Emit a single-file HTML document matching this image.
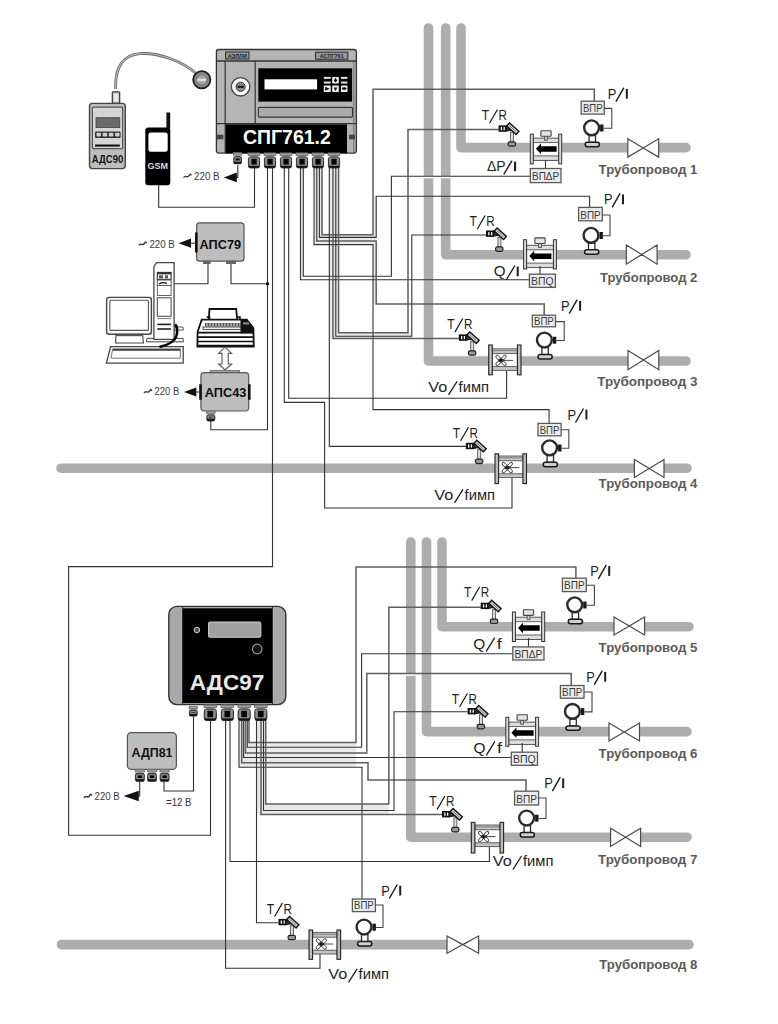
<!DOCTYPE html>
<html><head><meta charset="utf-8"><title>diagram</title>
<style>html,body{margin:0;padding:0;background:#fff;width:778px;height:1024px;overflow:hidden}svg{display:block}</style>
</head><body>
<svg width="778" height="1024" viewBox="0 0 778 1024"><polyline points="428.5,28.0 428.5,361.0 686.0,361.0" fill="none" stroke="#adadad" stroke-width="9.6" stroke-linecap="round" stroke-linejoin="round"/>
<polyline points="445.7,28.0 445.7,254.8 686.0,254.8" fill="none" stroke="#adadad" stroke-width="9.6" stroke-linecap="round" stroke-linejoin="round"/>
<polyline points="461.0,28.0 461.0,147.6 686.0,147.6" fill="none" stroke="#adadad" stroke-width="9.6" stroke-linecap="round" stroke-linejoin="round"/>
<polyline points="61.0,468.2 687.0,468.2" fill="none" stroke="#adadad" stroke-width="9.6" stroke-linecap="round" stroke-linejoin="round"/>
<polyline points="410.8,542.0 410.8,837.2 687.0,837.2" fill="none" stroke="#adadad" stroke-width="9.6" stroke-linecap="round" stroke-linejoin="round"/>
<polyline points="426.5,542.0 426.5,731.6 687.0,731.6" fill="none" stroke="#adadad" stroke-width="9.6" stroke-linecap="round" stroke-linejoin="round"/>
<polyline points="442.0,542.0 442.0,626.7 689.0,626.7" fill="none" stroke="#adadad" stroke-width="9.6" stroke-linecap="round" stroke-linejoin="round"/>
<polyline points="61.5,944.6 689.0,944.6" fill="none" stroke="#adadad" stroke-width="9.6" stroke-linecap="round" stroke-linejoin="round"/>
<rect x="300.5" y="168.0" width="2.8" height="108.3" fill="#e9e9e9"/>
<rect x="314.0" y="168.0" width="8.0" height="76.6" fill="#e9e9e9"/>
<rect x="314.0" y="234.7" width="62.2" height="9.9" fill="#e9e9e9"/>
<rect x="373.0" y="196.3" width="3.2" height="38.4" fill="#e9e9e9"/>
<rect x="373.0" y="241.0" width="3.2" height="62.9" fill="#e9e9e9"/>
<rect x="329.3" y="168.0" width="9.3" height="170.4" fill="#e9e9e9"/>
<rect x="333.0" y="332.7" width="78.8" height="5.7" fill="#e9e9e9"/>
<rect x="239.0" y="721.0" width="10.0" height="46.3" fill="#e9e9e9"/>
<rect x="239.0" y="742.6" width="117.0" height="24.7" fill="#e9e9e9"/>
<rect x="256.5" y="721.0" width="9.2" height="93.6" fill="#e9e9e9"/>
<rect x="256.5" y="804.1" width="132.3" height="10.5" fill="#e9e9e9"/>
<polyline points="237.8,165.0 237.8,177.4 230.0,177.4" fill="none" stroke="#333333" stroke-width="1.1"/>
<path d="M223.8 177.4 L236.8 172.6 L236.8 182.2 Z" fill="#111"/>
<polyline points="254.5,166.0 254.5,207.2 158.7,207.2 158.7,184.0" fill="none" stroke="#333333" stroke-width="1.1"/>
<polyline points="267.5,166.0 267.5,429.7 210.8,429.7 210.8,420.0" fill="none" stroke="#333333" stroke-width="1.1"/>
<polyline points="231.0,262.0 231.0,283.8 267.5,283.8" fill="none" stroke="#333333" stroke-width="1.1"/>
<circle cx="267.5" cy="283.8" r="1.8" fill="#111"/>
<polyline points="272.5,166.0 272.5,566.6 68.6,566.6 68.6,835.2 210.5,835.2 210.5,720.0" fill="none" stroke="#333333" stroke-width="1.1"/>
<polyline points="284.3,166.0 284.3,402.4 324.6,402.4 324.6,508.0 512.0,508.0 512.0,477.6" fill="none" stroke="#333333" stroke-width="1.1"/>
<polyline points="288.7,166.0 288.7,398.2 506.6,398.2 506.6,370.4" fill="none" stroke="#333333" stroke-width="1.1"/>
<polyline points="300.5,166.0 300.5,279.7 529.4,279.7" fill="none" stroke="#333333" stroke-width="1.1"/>
<polyline points="303.3,166.0 303.3,276.3 391.4,276.3 391.4,176.3 530.3,176.3" fill="none" stroke="#333333" stroke-width="1.1"/>
<polyline points="314.0,166.0 314.0,244.6 373.0,244.6 373.0,409.6 549.1,409.6 549.1,423.4" fill="none" stroke="#333333" stroke-width="1.1"/>
<polyline points="316.7,166.0 316.7,241.0 376.2,241.0 376.2,303.9 544.2,303.9 544.2,315.2" fill="none" stroke="#5e5e5e" stroke-width="1.5"/>
<polyline points="319.4,166.0 319.4,237.4 376.2,237.4 376.2,196.3 589.6,196.3 589.6,207.4" fill="none" stroke="#333333" stroke-width="1.1"/>
<polyline points="322.0,166.0 322.0,234.7 373.0,234.7 373.0,89.3 594.3,89.3 594.3,101.2" fill="none" stroke="#5e5e5e" stroke-width="1.5"/>
<polyline points="329.3,166.0 329.3,446.4 465.8,446.4" fill="none" stroke="#333333" stroke-width="1.1"/>
<polyline points="333.0,166.0 333.0,338.4 458.8,338.4" fill="none" stroke="#5e5e5e" stroke-width="1.5"/>
<polyline points="335.8,166.0 335.8,336.2 411.8,336.2 411.8,235.0 486.0,235.0" fill="none" stroke="#333333" stroke-width="1.1"/>
<polyline points="338.6,166.0 338.6,332.7 408.0,332.7 408.0,129.4 498.5,129.4" fill="none" stroke="#5e5e5e" stroke-width="1.5"/>
<polyline points="193.5,714.0 193.5,791.0 164.0,791.0 164.0,781.0" fill="none" stroke="#333333" stroke-width="1.1"/>
<polyline points="225.6,720.0 225.6,968.2 320.0,968.2 320.0,954.0" fill="none" stroke="#333333" stroke-width="1.1"/>
<polyline points="230.0,720.0 230.0,861.5 489.4,861.5 489.4,846.6" fill="none" stroke="#333333" stroke-width="1.1"/>
<polyline points="249.0,720.0 249.0,742.6 356.0,742.6 356.0,567.1 575.9,567.1 575.9,578.2" fill="none" stroke="#5e5e5e" stroke-width="1.5"/>
<polyline points="247.3,720.0 247.3,747.2 361.6,747.2 361.6,653.8 512.8,653.8" fill="none" stroke="#333333" stroke-width="1.1"/>
<polyline points="245.5,720.0 245.5,752.9 366.8,752.9 366.8,673.6 571.2,673.6 571.2,685.5" fill="none" stroke="#5e5e5e" stroke-width="1.5"/>
<polyline points="243.6,720.0 243.6,757.5 511.3,757.5" fill="none" stroke="#333333" stroke-width="1.1"/>
<polyline points="241.7,720.0 241.7,762.8 368.0,762.8 368.0,780.0 526.0,780.0 526.0,791.2" fill="none" stroke="#5e5e5e" stroke-width="1.5"/>
<polyline points="239.0,720.0 239.0,767.3 362.0,767.3 362.0,899.2" fill="none" stroke="#333333" stroke-width="1.1"/>
<polyline points="256.5,720.0 256.5,922.7 278.5,922.7" fill="none" stroke="#333333" stroke-width="1.1"/>
<polyline points="261.0,720.0 261.0,814.6 442.0,814.6" fill="none" stroke="#5e5e5e" stroke-width="1.5"/>
<polyline points="263.5,720.0 263.5,810.5 394.0,810.5 394.0,711.8 467.6,711.8" fill="none" stroke="#333333" stroke-width="1.1"/>
<polyline points="265.7,720.0 265.7,804.1 388.8,804.1 388.8,607.2 480.7,607.2" fill="none" stroke="#5e5e5e" stroke-width="1.5"/>
<rect x="423.6" y="176.9" width="9.8" height="1.4" fill="#fff"/>
<rect x="440.8" y="176.9" width="9.8" height="1.4" fill="#fff"/>
<rect x="405.9" y="674.4" width="9.8" height="1.4" fill="#fff"/>
<text x="481.8" y="120.1" font-family="Liberation Sans" font-size="14.2" fill="#1e1e1e" textLength="7.4" lengthAdjust="spacingAndGlyphs">T</text>
<line x1="489.8" y1="122.8" x2="497.2" y2="110.0" stroke="#1e1e1e" stroke-width="1.25" stroke-linecap="round"/>
<text x="498.6" y="120.1" font-family="Liberation Sans" font-size="14.2" fill="#1e1e1e" textLength="8.4" lengthAdjust="spacingAndGlyphs">R</text>
<g transform="translate(498.5,129.2)">
<rect x="11.9" y="3" width="3" height="9.8" fill="#ddd" stroke="#555" stroke-width="0.9"/>
<rect x="9.6" y="12.6" width="7.4" height="4.4" rx="1.8" fill="#999" stroke="#222" stroke-width="1.2"/>
<path d="M7 -3 L11 -4.5 L13 1 L7 2" fill="#333" stroke="#111" stroke-width="1"/>
<rect x="0" y="-3.8" width="8" height="6.4" fill="#111"/>
<rect x="2.2" y="-2.2" width="1.3" height="3.2" fill="#fff"/><rect x="5" y="-2.2" width="1.3" height="3.2" fill="#fff"/>
<g transform="translate(14.2,-0.6) rotate(42)"><rect x="-6.2" y="-2.1" width="12.6" height="4.2" fill="#d8d8d8" stroke="#111" stroke-width="1.4"/><line x1="-4.6" y1="0" x2="4.6" y2="0" stroke="#666" stroke-width="0.8"/></g>
</g>
<rect x="533.3" y="138.1" width="25.4" height="22.3" fill="#ddd" stroke="#444" stroke-width="0.9"/>
<rect x="533.3" y="142.6" width="25.4" height="13.3" fill="#fff" stroke="#555" stroke-width="0.9"/>
<path d="M535.9 148.8 L540.9 143.6 L540.9 146.2 L556.7 146.2 L556.7 151.7 L540.9 151.7 L540.9 154.1 Z" fill="#000"/>
<rect x="530.3" y="134.2" width="3.0" height="29.7" fill="#d8d8d8" stroke="#333" stroke-width="1"/>
<rect x="558.7" y="134.2" width="3.0" height="29.7" fill="#d8d8d8" stroke="#333" stroke-width="1"/>
<rect x="544.6" y="135.9" width="2.8" height="4.4" fill="#ccc" stroke="#444" stroke-width="0.8"/>
<rect x="540.9" y="130.7" width="10.2" height="5.6" rx="0.6" fill="#e4e4e4" stroke="#444" stroke-width="1.1"/>
<polyline points="545.5,160.3 545.5,168.5" fill="none" stroke="#333" stroke-width="1.1"/>
<rect x="530.3" y="168.5" width="30.7" height="14.1" fill="#ececec" stroke="#5a5a5a" stroke-width="1.3"/>
<text x="545.6" y="180.3" font-family="Liberation Sans" font-size="11.6" font-weight="normal" fill="#3a3a3a" text-anchor="middle" textLength="27.3" lengthAdjust="spacingAndGlyphs">ВПΔР</text>
<text x="486.9" y="171.2" font-family="Liberation Sans" font-size="14.2" fill="#1e1e1e" textLength="18.6" lengthAdjust="spacingAndGlyphs">ΔP</text>
<line x1="504.0" y1="174.0" x2="511.7" y2="161.2" stroke="#1e1e1e" stroke-width="1.45" stroke-linecap="round"/>
<rect x="514.0" y="161.6" width="2.1" height="9.6" fill="#1e1e1e"/>
<rect x="581.2" y="101.2" width="23.1" height="12.9" fill="#ececec" stroke="#5a5a5a" stroke-width="1.3"/>
<text x="592.8" y="111.8" font-family="Liberation Sans" font-size="11.6" font-weight="normal" fill="#3a3a3a" text-anchor="middle" textLength="19.7" lengthAdjust="spacingAndGlyphs">ВПР</text>
<text x="607.8" y="98.7" font-family="Liberation Sans" font-size="14.2" fill="#1e1e1e" textLength="8.6" lengthAdjust="spacingAndGlyphs">P</text>
<line x1="616.2" y1="101.2" x2="623.6" y2="88.2" stroke="#1e1e1e" stroke-width="1.45" stroke-linecap="round"/>
<rect x="625.8" y="88.9" width="2.0" height="9.8" fill="#1e1e1e"/>
<rect x="589.1" y="135.4" width="6.4" height="7" fill="#fff" stroke="#2a2a2a" stroke-width="1.3"/>
<rect x="585.2" y="142.3" width="14.2" height="4.4" rx="2.2" fill="#cfcfcf" stroke="#1a1a1a" stroke-width="1.5"/>
<circle cx="591.6" cy="127.8" r="7.4" fill="#fff" stroke="#2a2a2a" stroke-width="2.4"/>
<rect x="600.1" y="124.5" width="3.4" height="7" fill="#1a1a1a"/>
<polyline points="604.3,108.4 611.8,108.4 611.8,128.3 603.5,128.3" fill="none" stroke="#444" stroke-width="1.1"/>
<rect x="627.8" y="142.4" width="30.9" height="11.0" fill="#fff"/>
<path d="M627.8 138.8 L643.2 147.9 L627.8 157.1 Z M658.7 138.8 L643.2 147.9 L658.7 157.1 Z" fill="#fff" stroke="#4a4a4a" stroke-width="1.2"/>
<text x="598.6" y="174.2" font-family="Liberation Sans" font-size="13.4" font-weight="bold" fill="#5a5a5a" textLength="98.8" lengthAdjust="spacingAndGlyphs">Трубопровод 1</text>
<text x="469.5" y="226.0" font-family="Liberation Sans" font-size="14.2" fill="#1e1e1e" textLength="7.4" lengthAdjust="spacingAndGlyphs">T</text>
<line x1="477.5" y1="228.7" x2="484.9" y2="215.9" stroke="#1e1e1e" stroke-width="1.25" stroke-linecap="round"/>
<text x="486.3" y="226.0" font-family="Liberation Sans" font-size="14.2" fill="#1e1e1e" textLength="8.4" lengthAdjust="spacingAndGlyphs">R</text>
<g transform="translate(486.0,234.3)">
<rect x="11.9" y="3" width="3" height="9.8" fill="#ddd" stroke="#555" stroke-width="0.9"/>
<rect x="9.6" y="12.6" width="7.4" height="4.4" rx="1.8" fill="#999" stroke="#222" stroke-width="1.2"/>
<path d="M7 -3 L11 -4.5 L13 1 L7 2" fill="#333" stroke="#111" stroke-width="1"/>
<rect x="0" y="-3.8" width="8" height="6.4" fill="#111"/>
<rect x="2.2" y="-2.2" width="1.3" height="3.2" fill="#fff"/><rect x="5" y="-2.2" width="1.3" height="3.2" fill="#fff"/>
<g transform="translate(14.2,-0.6) rotate(42)"><rect x="-6.2" y="-2.1" width="12.6" height="4.2" fill="#d8d8d8" stroke="#111" stroke-width="1.4"/><line x1="-4.6" y1="0" x2="4.6" y2="0" stroke="#666" stroke-width="0.8"/></g>
</g>
<rect x="526.6" y="245.3" width="26.8" height="22.3" fill="#ddd" stroke="#444" stroke-width="0.9"/>
<rect x="526.6" y="249.8" width="26.8" height="13.3" fill="#fff" stroke="#555" stroke-width="0.9"/>
<path d="M529.2 256.0 L534.2 250.8 L534.2 253.4 L551.4 253.4 L551.4 258.9 L534.2 258.9 L534.2 261.3 Z" fill="#000"/>
<rect x="523.6" y="239.7" width="3.0" height="29.3" fill="#d8d8d8" stroke="#333" stroke-width="1"/>
<rect x="553.4" y="239.7" width="3.0" height="29.3" fill="#d8d8d8" stroke="#333" stroke-width="1"/>
<rect x="538.6" y="243.1" width="2.8" height="4.4" fill="#ccc" stroke="#444" stroke-width="0.8"/>
<rect x="534.9" y="237.9" width="10.2" height="5.6" rx="0.6" fill="#e4e4e4" stroke="#444" stroke-width="1.1"/>
<polyline points="540.0,266.0 540.0,274.2" fill="none" stroke="#333" stroke-width="1.1"/>
<rect x="529.4" y="274.2" width="26.0" height="13.2" fill="#ececec" stroke="#5a5a5a" stroke-width="1.3"/>
<text x="542.4" y="285.1" font-family="Liberation Sans" font-size="11.6" font-weight="normal" fill="#3a3a3a" text-anchor="middle" textLength="22.6" lengthAdjust="spacingAndGlyphs">ВПQ</text>
<text x="493.7" y="276.3" font-family="Liberation Sans" font-size="14.2" fill="#1e1e1e" textLength="11.8" lengthAdjust="spacingAndGlyphs">Q</text>
<line x1="506.5" y1="279.5" x2="514.5" y2="266.1" stroke="#1e1e1e" stroke-width="1.3" stroke-linecap="round"/>
<rect x="516.7" y="266.5" width="2.0" height="9.8" fill="#1e1e1e"/>
<rect x="578.6" y="207.4" width="23.7" height="13.4" fill="#ececec" stroke="#5a5a5a" stroke-width="1.3"/>
<text x="590.5" y="218.5" font-family="Liberation Sans" font-size="11.6" font-weight="normal" fill="#3a3a3a" text-anchor="middle" textLength="20.3" lengthAdjust="spacingAndGlyphs">ВПР</text>
<text x="604.0" y="204.3" font-family="Liberation Sans" font-size="14.2" fill="#1e1e1e" textLength="8.6" lengthAdjust="spacingAndGlyphs">P</text>
<line x1="612.4" y1="206.8" x2="619.8" y2="193.8" stroke="#1e1e1e" stroke-width="1.45" stroke-linecap="round"/>
<rect x="622.0" y="194.5" width="2.0" height="9.8" fill="#1e1e1e"/>
<rect x="588.5" y="242.9" width="6.4" height="7" fill="#fff" stroke="#2a2a2a" stroke-width="1.3"/>
<rect x="584.6" y="249.8" width="14.2" height="4.4" rx="2.2" fill="#cfcfcf" stroke="#1a1a1a" stroke-width="1.5"/>
<circle cx="591.0" cy="235.3" r="7.4" fill="#fff" stroke="#2a2a2a" stroke-width="2.4"/>
<rect x="599.5" y="232.0" width="3.4" height="7" fill="#1a1a1a"/>
<polyline points="602.3,215.0 610.0,215.0 610.0,235.8 602.9,235.8" fill="none" stroke="#444" stroke-width="1.1"/>
<rect x="626.3" y="249.1" width="30.8" height="11.0" fill="#fff"/>
<path d="M626.3 245.0 L641.7 254.6 L626.3 264.2 Z M657.1 245.0 L641.7 254.6 L657.1 264.2 Z" fill="#fff" stroke="#4a4a4a" stroke-width="1.2"/>
<text x="600.0" y="282.2" font-family="Liberation Sans" font-size="13.4" font-weight="bold" fill="#5a5a5a" textLength="97.4" lengthAdjust="spacingAndGlyphs">Трубопровод 2</text>
<text x="447.2" y="328.9" font-family="Liberation Sans" font-size="14.2" fill="#1e1e1e" textLength="7.4" lengthAdjust="spacingAndGlyphs">T</text>
<line x1="455.2" y1="331.6" x2="462.6" y2="318.8" stroke="#1e1e1e" stroke-width="1.25" stroke-linecap="round"/>
<text x="464.0" y="328.9" font-family="Liberation Sans" font-size="14.2" fill="#1e1e1e" textLength="8.4" lengthAdjust="spacingAndGlyphs">R</text>
<g transform="translate(458.8,338.2)">
<rect x="11.9" y="3" width="3" height="9.8" fill="#ddd" stroke="#555" stroke-width="0.9"/>
<rect x="9.6" y="12.6" width="7.4" height="4.4" rx="1.8" fill="#999" stroke="#222" stroke-width="1.2"/>
<path d="M7 -3 L11 -4.5 L13 1 L7 2" fill="#333" stroke="#111" stroke-width="1"/>
<rect x="0" y="-3.8" width="8" height="6.4" fill="#111"/>
<rect x="2.2" y="-2.2" width="1.3" height="3.2" fill="#fff"/><rect x="5" y="-2.2" width="1.3" height="3.2" fill="#fff"/>
<g transform="translate(14.2,-0.6) rotate(42)"><rect x="-6.2" y="-2.1" width="12.6" height="4.2" fill="#d8d8d8" stroke="#111" stroke-width="1.4"/><line x1="-4.6" y1="0" x2="4.6" y2="0" stroke="#666" stroke-width="0.8"/></g>
</g>
<rect x="492.3" y="348.8" width="25.1" height="21.6" fill="#fff"/>
<rect x="492.3" y="348.8" width="25.1" height="4.8" fill="#c4c4c4" stroke="#555" stroke-width="0.9"/>
<rect x="492.3" y="366.6" width="25.1" height="3.8" fill="#c4c4c4" stroke="#555" stroke-width="0.9"/>
<line x1="492.3" y1="350.6" x2="517.4" y2="350.6" stroke="#666" stroke-width="0.7"/>
<g transform="translate(501.0,360.4)" stroke="#333" stroke-width="0.9" fill="#fff">
<ellipse cx="-2.7" cy="-2.7" rx="3.1" ry="1.6" transform="rotate(45 -2.7 -2.7)"/><ellipse cx="2.7" cy="-2.7" rx="3.1" ry="1.6" transform="rotate(-45 2.7 -2.7)"/>
<ellipse cx="-2.7" cy="2.7" rx="3.1" ry="1.6" transform="rotate(-45 -2.7 2.7)"/><ellipse cx="2.7" cy="2.7" rx="3.1" ry="1.6" transform="rotate(45 2.7 2.7)"/>
<ellipse cx="0" cy="0" rx="2.4" ry="1.6" fill="#111"/><line x1="0" y1="0" x2="12" y2="0"/>
</g>
<rect x="488.7" y="345.0" width="3.6" height="29.8" fill="#bdbdbd" stroke="#222" stroke-width="1.1"/>
<rect x="517.4" y="345.0" width="3.6" height="29.8" fill="#bdbdbd" stroke="#222" stroke-width="1.1"/>
<text x="428.3" y="391.7" font-family="Liberation Sans" font-size="14.2" fill="#1e1e1e" textLength="19.0" lengthAdjust="spacingAndGlyphs">Vo</text>
<line x1="448.8" y1="394.4" x2="456.8" y2="381.8" stroke="#1e1e1e" stroke-width="1.3" stroke-linecap="round"/>
<text x="458.6" y="391.7" font-family="Liberation Sans" font-size="14.2" fill="#1e1e1e" textLength="30.4" lengthAdjust="spacingAndGlyphs">fимп</text>
<rect x="532.3" y="315.2" width="23.2" height="11.6" fill="#ececec" stroke="#5a5a5a" stroke-width="1.3"/>
<text x="543.9" y="324.5" font-family="Liberation Sans" font-size="11.6" font-weight="normal" fill="#3a3a3a" text-anchor="middle" textLength="19.8" lengthAdjust="spacingAndGlyphs">ВПР</text>
<text x="561.1" y="310.7" font-family="Liberation Sans" font-size="14.2" fill="#1e1e1e" textLength="8.6" lengthAdjust="spacingAndGlyphs">P</text>
<line x1="569.5" y1="313.2" x2="576.9" y2="300.2" stroke="#1e1e1e" stroke-width="1.45" stroke-linecap="round"/>
<rect x="579.1" y="300.9" width="2.0" height="9.8" fill="#1e1e1e"/>
<rect x="541.9" y="347.6" width="6.4" height="7" fill="#fff" stroke="#2a2a2a" stroke-width="1.3"/>
<rect x="538.0" y="354.5" width="14.2" height="4.4" rx="2.2" fill="#cfcfcf" stroke="#1a1a1a" stroke-width="1.5"/>
<circle cx="544.4" cy="340.0" r="7.4" fill="#fff" stroke="#2a2a2a" stroke-width="2.4"/>
<rect x="552.9" y="336.7" width="3.4" height="7" fill="#1a1a1a"/>
<polyline points="555.5,321.6 564.2,321.6 564.2,340.5 556.3,340.5" fill="none" stroke="#444" stroke-width="1.1"/>
<rect x="628.0" y="354.5" width="30.8" height="11.0" fill="#fff"/>
<path d="M628.0 350.4 L643.4 360.0 L628.0 369.7 Z M658.8 350.4 L643.4 360.0 L658.8 369.7 Z" fill="#fff" stroke="#4a4a4a" stroke-width="1.2"/>
<text x="597.3" y="386.2" font-family="Liberation Sans" font-size="13.4" font-weight="bold" fill="#5a5a5a" textLength="100.1" lengthAdjust="spacingAndGlyphs">Трубопровод 3</text>
<text x="452.8" y="437.8" font-family="Liberation Sans" font-size="14.2" fill="#1e1e1e" textLength="7.4" lengthAdjust="spacingAndGlyphs">T</text>
<line x1="460.8" y1="440.5" x2="468.2" y2="427.7" stroke="#1e1e1e" stroke-width="1.25" stroke-linecap="round"/>
<text x="469.6" y="437.8" font-family="Liberation Sans" font-size="14.2" fill="#1e1e1e" textLength="8.4" lengthAdjust="spacingAndGlyphs">R</text>
<g transform="translate(465.8,446.6)">
<rect x="11.9" y="3" width="3" height="9.8" fill="#ddd" stroke="#555" stroke-width="0.9"/>
<rect x="9.6" y="12.6" width="7.4" height="4.4" rx="1.8" fill="#999" stroke="#222" stroke-width="1.2"/>
<path d="M7 -3 L11 -4.5 L13 1 L7 2" fill="#333" stroke="#111" stroke-width="1"/>
<rect x="0" y="-3.8" width="8" height="6.4" fill="#111"/>
<rect x="2.2" y="-2.2" width="1.3" height="3.2" fill="#fff"/><rect x="5" y="-2.2" width="1.3" height="3.2" fill="#fff"/>
<g transform="translate(14.2,-0.6) rotate(42)"><rect x="-6.2" y="-2.1" width="12.6" height="4.2" fill="#d8d8d8" stroke="#111" stroke-width="1.4"/><line x1="-4.6" y1="0" x2="4.6" y2="0" stroke="#666" stroke-width="0.8"/></g>
</g>
<rect x="498.6" y="456.0" width="24.3" height="21.6" fill="#fff"/>
<rect x="498.6" y="456.0" width="24.3" height="4.8" fill="#c4c4c4" stroke="#555" stroke-width="0.9"/>
<rect x="498.6" y="473.8" width="24.3" height="3.8" fill="#c4c4c4" stroke="#555" stroke-width="0.9"/>
<line x1="498.6" y1="457.8" x2="522.9" y2="457.8" stroke="#666" stroke-width="0.7"/>
<g transform="translate(507.3,467.6)" stroke="#333" stroke-width="0.9" fill="#fff">
<ellipse cx="-2.7" cy="-2.7" rx="3.1" ry="1.6" transform="rotate(45 -2.7 -2.7)"/><ellipse cx="2.7" cy="-2.7" rx="3.1" ry="1.6" transform="rotate(-45 2.7 -2.7)"/>
<ellipse cx="-2.7" cy="2.7" rx="3.1" ry="1.6" transform="rotate(-45 -2.7 2.7)"/><ellipse cx="2.7" cy="2.7" rx="3.1" ry="1.6" transform="rotate(45 2.7 2.7)"/>
<ellipse cx="0" cy="0" rx="2.4" ry="1.6" fill="#111"/><line x1="0" y1="0" x2="12" y2="0"/>
</g>
<rect x="495.0" y="453.8" width="3.6" height="29.8" fill="#bdbdbd" stroke="#222" stroke-width="1.1"/>
<rect x="522.9" y="453.8" width="3.6" height="29.8" fill="#bdbdbd" stroke="#222" stroke-width="1.1"/>
<text x="434.3" y="499.6" font-family="Liberation Sans" font-size="14.2" fill="#1e1e1e" textLength="19.0" lengthAdjust="spacingAndGlyphs">Vo</text>
<line x1="454.8" y1="502.3" x2="462.8" y2="489.7" stroke="#1e1e1e" stroke-width="1.3" stroke-linecap="round"/>
<text x="464.6" y="499.6" font-family="Liberation Sans" font-size="14.2" fill="#1e1e1e" textLength="30.4" lengthAdjust="spacingAndGlyphs">fимп</text>
<rect x="538.0" y="423.4" width="23.1" height="12.4" fill="#ececec" stroke="#5a5a5a" stroke-width="1.3"/>
<text x="549.5" y="433.5" font-family="Liberation Sans" font-size="11.6" font-weight="normal" fill="#3a3a3a" text-anchor="middle" textLength="19.7" lengthAdjust="spacingAndGlyphs">ВПР</text>
<text x="567.4" y="419.5" font-family="Liberation Sans" font-size="14.2" fill="#1e1e1e" textLength="8.6" lengthAdjust="spacingAndGlyphs">P</text>
<line x1="575.8" y1="422.0" x2="583.2" y2="409.0" stroke="#1e1e1e" stroke-width="1.45" stroke-linecap="round"/>
<rect x="585.4" y="409.7" width="2.0" height="9.8" fill="#1e1e1e"/>
<rect x="547.1" y="455.4" width="6.4" height="7" fill="#fff" stroke="#2a2a2a" stroke-width="1.3"/>
<rect x="543.2" y="462.3" width="14.2" height="4.4" rx="2.2" fill="#cfcfcf" stroke="#1a1a1a" stroke-width="1.5"/>
<circle cx="549.6" cy="447.8" r="7.4" fill="#fff" stroke="#2a2a2a" stroke-width="2.4"/>
<rect x="558.1" y="444.5" width="3.4" height="7" fill="#1a1a1a"/>
<polyline points="561.1,429.8 568.8,429.8 568.8,448.3 561.5,448.3" fill="none" stroke="#444" stroke-width="1.1"/>
<rect x="634.4" y="462.9" width="29.6" height="11.0" fill="#fff"/>
<path d="M634.4 459.4 L649.2 468.4 L634.4 477.4 Z M664.0 459.4 L649.2 468.4 L664.0 477.4 Z" fill="#fff" stroke="#4a4a4a" stroke-width="1.2"/>
<text x="598.6" y="487.5" font-family="Liberation Sans" font-size="13.4" font-weight="bold" fill="#5a5a5a" textLength="98.8" lengthAdjust="spacingAndGlyphs">Трубопровод 4</text>
<text x="464.0" y="597.4" font-family="Liberation Sans" font-size="14.2" fill="#1e1e1e" textLength="7.4" lengthAdjust="spacingAndGlyphs">T</text>
<line x1="472.0" y1="600.1" x2="479.4" y2="587.3" stroke="#1e1e1e" stroke-width="1.25" stroke-linecap="round"/>
<text x="480.8" y="597.4" font-family="Liberation Sans" font-size="14.2" fill="#1e1e1e" textLength="8.4" lengthAdjust="spacingAndGlyphs">R</text>
<g transform="translate(480.7,606.5)">
<rect x="11.9" y="3" width="3" height="9.8" fill="#ddd" stroke="#555" stroke-width="0.9"/>
<rect x="9.6" y="12.6" width="7.4" height="4.4" rx="1.8" fill="#999" stroke="#222" stroke-width="1.2"/>
<path d="M7 -3 L11 -4.5 L13 1 L7 2" fill="#333" stroke="#111" stroke-width="1"/>
<rect x="0" y="-3.8" width="8" height="6.4" fill="#111"/>
<rect x="2.2" y="-2.2" width="1.3" height="3.2" fill="#fff"/><rect x="5" y="-2.2" width="1.3" height="3.2" fill="#fff"/>
<g transform="translate(14.2,-0.6) rotate(42)"><rect x="-6.2" y="-2.1" width="12.6" height="4.2" fill="#d8d8d8" stroke="#111" stroke-width="1.4"/><line x1="-4.6" y1="0" x2="4.6" y2="0" stroke="#666" stroke-width="0.8"/></g>
</g>
<rect x="515.4" y="617.2" width="26.3" height="22.3" fill="#ddd" stroke="#444" stroke-width="0.9"/>
<rect x="515.4" y="621.7" width="26.3" height="13.3" fill="#fff" stroke="#555" stroke-width="0.9"/>
<path d="M518.0 627.9 L523.0 622.7 L523.0 625.3 L539.7 625.3 L539.7 630.8 L523.0 630.8 L523.0 633.2 Z" fill="#000"/>
<rect x="512.4" y="612.0" width="3.0" height="29.5" fill="#d8d8d8" stroke="#333" stroke-width="1"/>
<rect x="541.7" y="612.0" width="3.0" height="29.5" fill="#d8d8d8" stroke="#333" stroke-width="1"/>
<rect x="527.1" y="615.0" width="2.8" height="4.4" fill="#ccc" stroke="#444" stroke-width="0.8"/>
<rect x="523.4" y="609.8" width="10.2" height="5.6" rx="0.6" fill="#e4e4e4" stroke="#444" stroke-width="1.1"/>
<polyline points="528.5,638.0 528.5,646.9" fill="none" stroke="#333" stroke-width="1.1"/>
<rect x="512.8" y="646.9" width="31.2" height="13.1" fill="#ececec" stroke="#5a5a5a" stroke-width="1.3"/>
<text x="528.4" y="657.7" font-family="Liberation Sans" font-size="11.6" font-weight="normal" fill="#3a3a3a" text-anchor="middle" textLength="27.8" lengthAdjust="spacingAndGlyphs">ВПΔР</text>
<text x="473.2" y="649.3" font-family="Liberation Sans" font-size="14.2" fill="#1e1e1e" textLength="12.0" lengthAdjust="spacingAndGlyphs">Q</text>
<line x1="486.4" y1="651.1" x2="494.4" y2="638.1" stroke="#1e1e1e" stroke-width="1.3" stroke-linecap="round"/>
<text x="496.8" y="649.3" font-family="Liberation Sans" font-size="14.2" fill="#1e1e1e" textLength="5.0" lengthAdjust="spacingAndGlyphs">f</text>
<rect x="562.4" y="578.2" width="23.9" height="13.4" fill="#ececec" stroke="#5a5a5a" stroke-width="1.3"/>
<text x="574.3" y="589.3" font-family="Liberation Sans" font-size="11.6" font-weight="normal" fill="#3a3a3a" text-anchor="middle" textLength="20.5" lengthAdjust="spacingAndGlyphs">ВПР</text>
<text x="590.2" y="575.9" font-family="Liberation Sans" font-size="14.2" fill="#1e1e1e" textLength="8.6" lengthAdjust="spacingAndGlyphs">P</text>
<line x1="598.6" y1="578.4" x2="606.0" y2="565.4" stroke="#1e1e1e" stroke-width="1.45" stroke-linecap="round"/>
<rect x="608.2" y="566.1" width="2.0" height="9.8" fill="#1e1e1e"/>
<rect x="572.2" y="612.4" width="6.4" height="7" fill="#fff" stroke="#2a2a2a" stroke-width="1.3"/>
<rect x="568.3" y="619.3" width="14.2" height="4.4" rx="2.2" fill="#cfcfcf" stroke="#1a1a1a" stroke-width="1.5"/>
<circle cx="574.7" cy="604.8" r="7.4" fill="#fff" stroke="#2a2a2a" stroke-width="2.4"/>
<rect x="583.2" y="601.5" width="3.4" height="7" fill="#1a1a1a"/>
<polyline points="586.3,585.2 594.4,585.2 594.4,605.3 586.6,605.3" fill="none" stroke="#444" stroke-width="1.1"/>
<rect x="614.0" y="620.5" width="30.6" height="11.0" fill="#fff"/>
<path d="M614.0 617.0 L629.3 626.0 L614.0 635.0 Z M644.6 617.0 L629.3 626.0 L644.6 635.0 Z" fill="#fff" stroke="#4a4a4a" stroke-width="1.2"/>
<text x="598.6" y="652.2" font-family="Liberation Sans" font-size="13.4" font-weight="bold" fill="#5a5a5a" textLength="98.8" lengthAdjust="spacingAndGlyphs">Трубопровод 5</text>
<text x="451.8" y="703.8" font-family="Liberation Sans" font-size="14.2" fill="#1e1e1e" textLength="7.4" lengthAdjust="spacingAndGlyphs">T</text>
<line x1="459.8" y1="706.5" x2="467.2" y2="693.7" stroke="#1e1e1e" stroke-width="1.25" stroke-linecap="round"/>
<text x="468.6" y="703.8" font-family="Liberation Sans" font-size="14.2" fill="#1e1e1e" textLength="8.4" lengthAdjust="spacingAndGlyphs">R</text>
<g transform="translate(467.6,711.8)">
<rect x="11.9" y="3" width="3" height="9.8" fill="#ddd" stroke="#555" stroke-width="0.9"/>
<rect x="9.6" y="12.6" width="7.4" height="4.4" rx="1.8" fill="#999" stroke="#222" stroke-width="1.2"/>
<path d="M7 -3 L11 -4.5 L13 1 L7 2" fill="#333" stroke="#111" stroke-width="1"/>
<rect x="0" y="-3.8" width="8" height="6.4" fill="#111"/>
<rect x="2.2" y="-2.2" width="1.3" height="3.2" fill="#fff"/><rect x="5" y="-2.2" width="1.3" height="3.2" fill="#fff"/>
<g transform="translate(14.2,-0.6) rotate(42)"><rect x="-6.2" y="-2.1" width="12.6" height="4.2" fill="#d8d8d8" stroke="#111" stroke-width="1.4"/><line x1="-4.6" y1="0" x2="4.6" y2="0" stroke="#666" stroke-width="0.8"/></g>
</g>
<rect x="508.8" y="722.1" width="26.8" height="22.3" fill="#ddd" stroke="#444" stroke-width="0.9"/>
<rect x="508.8" y="726.6" width="26.8" height="13.3" fill="#fff" stroke="#555" stroke-width="0.9"/>
<path d="M511.4 732.8 L516.4 727.6 L516.4 730.2 L533.6 730.2 L533.6 735.7 L516.4 735.7 L516.4 738.1 Z" fill="#000"/>
<rect x="505.8" y="717.3" width="3.0" height="29.0" fill="#d8d8d8" stroke="#333" stroke-width="1"/>
<rect x="535.6" y="717.3" width="3.0" height="29.0" fill="#d8d8d8" stroke="#333" stroke-width="1"/>
<rect x="520.8" y="719.9" width="2.8" height="4.4" fill="#ccc" stroke="#444" stroke-width="0.8"/>
<rect x="517.1" y="714.7" width="10.2" height="5.6" rx="0.6" fill="#e4e4e4" stroke="#444" stroke-width="1.1"/>
<polyline points="522.2,743.0 522.2,752.2" fill="none" stroke="#333" stroke-width="1.1"/>
<rect x="511.3" y="752.2" width="26.2" height="13.1" fill="#ececec" stroke="#5a5a5a" stroke-width="1.3"/>
<text x="524.4" y="763.0" font-family="Liberation Sans" font-size="11.6" font-weight="normal" fill="#3a3a3a" text-anchor="middle" textLength="22.8" lengthAdjust="spacingAndGlyphs">ВПQ</text>
<text x="473.4" y="753.0" font-family="Liberation Sans" font-size="14.2" fill="#1e1e1e" textLength="12.0" lengthAdjust="spacingAndGlyphs">Q</text>
<line x1="486.6" y1="754.8" x2="494.6" y2="741.8" stroke="#1e1e1e" stroke-width="1.3" stroke-linecap="round"/>
<text x="497.0" y="753.0" font-family="Liberation Sans" font-size="14.2" fill="#1e1e1e" textLength="5.0" lengthAdjust="spacingAndGlyphs">f</text>
<rect x="560.4" y="685.5" width="23.6" height="12.7" fill="#ececec" stroke="#5a5a5a" stroke-width="1.3"/>
<text x="572.2" y="695.9" font-family="Liberation Sans" font-size="11.6" font-weight="normal" fill="#3a3a3a" text-anchor="middle" textLength="20.2" lengthAdjust="spacingAndGlyphs">ВПР</text>
<text x="586.2" y="681.7" font-family="Liberation Sans" font-size="14.2" fill="#1e1e1e" textLength="8.6" lengthAdjust="spacingAndGlyphs">P</text>
<line x1="594.6" y1="684.2" x2="602.0" y2="671.2" stroke="#1e1e1e" stroke-width="1.45" stroke-linecap="round"/>
<rect x="604.2" y="671.9" width="2.0" height="9.8" fill="#1e1e1e"/>
<rect x="569.9" y="719.0" width="6.4" height="7" fill="#fff" stroke="#2a2a2a" stroke-width="1.3"/>
<rect x="566.0" y="725.9" width="14.2" height="4.4" rx="2.2" fill="#cfcfcf" stroke="#1a1a1a" stroke-width="1.5"/>
<circle cx="572.4" cy="711.4" r="7.4" fill="#fff" stroke="#2a2a2a" stroke-width="2.4"/>
<rect x="580.9" y="708.1" width="3.4" height="7" fill="#1a1a1a"/>
<polyline points="584.0,692.0 592.0,692.0 592.0,711.9 584.3,711.9" fill="none" stroke="#444" stroke-width="1.1"/>
<rect x="609.0" y="726.5" width="30.5" height="11.0" fill="#fff"/>
<path d="M609.0 723.0 L624.2 732.0 L609.0 741.0 Z M639.5 723.0 L624.2 732.0 L639.5 741.0 Z" fill="#fff" stroke="#4a4a4a" stroke-width="1.2"/>
<text x="598.6" y="758.2" font-family="Liberation Sans" font-size="13.4" font-weight="bold" fill="#5a5a5a" textLength="98.8" lengthAdjust="spacingAndGlyphs">Трубопровод 6</text>
<text x="429.3" y="806.4" font-family="Liberation Sans" font-size="14.2" fill="#1e1e1e" textLength="7.4" lengthAdjust="spacingAndGlyphs">T</text>
<line x1="437.3" y1="809.1" x2="444.7" y2="796.3" stroke="#1e1e1e" stroke-width="1.25" stroke-linecap="round"/>
<text x="446.1" y="806.4" font-family="Liberation Sans" font-size="14.2" fill="#1e1e1e" textLength="8.4" lengthAdjust="spacingAndGlyphs">R</text>
<g transform="translate(442.0,814.8)">
<rect x="11.9" y="3" width="3" height="9.8" fill="#ddd" stroke="#555" stroke-width="0.9"/>
<rect x="9.6" y="12.6" width="7.4" height="4.4" rx="1.8" fill="#999" stroke="#222" stroke-width="1.2"/>
<path d="M7 -3 L11 -4.5 L13 1 L7 2" fill="#333" stroke="#111" stroke-width="1"/>
<rect x="0" y="-3.8" width="8" height="6.4" fill="#111"/>
<rect x="2.2" y="-2.2" width="1.3" height="3.2" fill="#fff"/><rect x="5" y="-2.2" width="1.3" height="3.2" fill="#fff"/>
<g transform="translate(14.2,-0.6) rotate(42)"><rect x="-6.2" y="-2.1" width="12.6" height="4.2" fill="#d8d8d8" stroke="#111" stroke-width="1.4"/><line x1="-4.6" y1="0" x2="4.6" y2="0" stroke="#666" stroke-width="0.8"/></g>
</g>
<rect x="474.9" y="825.0" width="25.1" height="21.6" fill="#fff"/>
<rect x="474.9" y="825.0" width="25.1" height="4.8" fill="#c4c4c4" stroke="#555" stroke-width="0.9"/>
<rect x="474.9" y="842.8" width="25.1" height="3.8" fill="#c4c4c4" stroke="#555" stroke-width="0.9"/>
<line x1="474.9" y1="826.8" x2="500.0" y2="826.8" stroke="#666" stroke-width="0.7"/>
<g transform="translate(483.6,836.6)" stroke="#333" stroke-width="0.9" fill="#fff">
<ellipse cx="-2.7" cy="-2.7" rx="3.1" ry="1.6" transform="rotate(45 -2.7 -2.7)"/><ellipse cx="2.7" cy="-2.7" rx="3.1" ry="1.6" transform="rotate(-45 2.7 -2.7)"/>
<ellipse cx="-2.7" cy="2.7" rx="3.1" ry="1.6" transform="rotate(-45 -2.7 2.7)"/><ellipse cx="2.7" cy="2.7" rx="3.1" ry="1.6" transform="rotate(45 2.7 2.7)"/>
<ellipse cx="0" cy="0" rx="2.4" ry="1.6" fill="#111"/><line x1="0" y1="0" x2="12" y2="0"/>
</g>
<rect x="471.3" y="822.4" width="3.6" height="30.6" fill="#bdbdbd" stroke="#222" stroke-width="1.1"/>
<rect x="500.0" y="822.4" width="3.6" height="30.6" fill="#bdbdbd" stroke="#222" stroke-width="1.1"/>
<text x="492.7" y="866.4" font-family="Liberation Sans" font-size="14.2" fill="#1e1e1e" textLength="19.0" lengthAdjust="spacingAndGlyphs">Vo</text>
<line x1="513.2" y1="869.1" x2="521.2" y2="856.5" stroke="#1e1e1e" stroke-width="1.3" stroke-linecap="round"/>
<text x="523.0" y="866.4" font-family="Liberation Sans" font-size="14.2" fill="#1e1e1e" textLength="30.4" lengthAdjust="spacingAndGlyphs">fимп</text>
<rect x="514.6" y="791.2" width="24.0" height="13.8" fill="#ececec" stroke="#5a5a5a" stroke-width="1.3"/>
<text x="526.6" y="802.7" font-family="Liberation Sans" font-size="11.6" font-weight="normal" fill="#3a3a3a" text-anchor="middle" textLength="20.6" lengthAdjust="spacingAndGlyphs">ВПР</text>
<text x="544.2" y="788.1" font-family="Liberation Sans" font-size="14.2" fill="#1e1e1e" textLength="8.6" lengthAdjust="spacingAndGlyphs">P</text>
<line x1="552.6" y1="790.6" x2="560.0" y2="777.6" stroke="#1e1e1e" stroke-width="1.45" stroke-linecap="round"/>
<rect x="562.2" y="778.3" width="2.0" height="9.8" fill="#1e1e1e"/>
<rect x="524.1" y="825.6" width="6.4" height="7" fill="#fff" stroke="#2a2a2a" stroke-width="1.3"/>
<rect x="520.2" y="832.5" width="14.2" height="4.4" rx="2.2" fill="#cfcfcf" stroke="#1a1a1a" stroke-width="1.5"/>
<circle cx="526.6" cy="818.0" r="7.4" fill="#fff" stroke="#2a2a2a" stroke-width="2.4"/>
<rect x="535.1" y="814.7" width="3.4" height="7" fill="#1a1a1a"/>
<polyline points="538.6,798.0 546.0,798.0 546.0,818.5 538.5,818.5" fill="none" stroke="#444" stroke-width="1.1"/>
<rect x="610.6" y="831.8" width="30.0" height="11.0" fill="#fff"/>
<path d="M610.6 828.3 L625.6 837.3 L610.6 846.4 Z M640.6 828.3 L625.6 837.3 L640.6 846.4 Z" fill="#fff" stroke="#4a4a4a" stroke-width="1.2"/>
<text x="598.0" y="864.2" font-family="Liberation Sans" font-size="13.4" font-weight="bold" fill="#5a5a5a" textLength="99.4" lengthAdjust="spacingAndGlyphs">Трубопровод 7</text>
<text x="266.8" y="913.5" font-family="Liberation Sans" font-size="14.2" fill="#1e1e1e" textLength="7.4" lengthAdjust="spacingAndGlyphs">T</text>
<line x1="274.8" y1="916.2" x2="282.2" y2="903.4" stroke="#1e1e1e" stroke-width="1.25" stroke-linecap="round"/>
<text x="283.6" y="913.5" font-family="Liberation Sans" font-size="14.2" fill="#1e1e1e" textLength="8.4" lengthAdjust="spacingAndGlyphs">R</text>
<g transform="translate(278.5,922.7)">
<rect x="11.9" y="3" width="3" height="9.8" fill="#ddd" stroke="#555" stroke-width="0.9"/>
<rect x="9.6" y="12.6" width="7.4" height="4.4" rx="1.8" fill="#999" stroke="#222" stroke-width="1.2"/>
<path d="M7 -3 L11 -4.5 L13 1 L7 2" fill="#333" stroke="#111" stroke-width="1"/>
<rect x="0" y="-3.8" width="8" height="6.4" fill="#111"/>
<rect x="2.2" y="-2.2" width="1.3" height="3.2" fill="#fff"/><rect x="5" y="-2.2" width="1.3" height="3.2" fill="#fff"/>
<g transform="translate(14.2,-0.6) rotate(42)"><rect x="-6.2" y="-2.1" width="12.6" height="4.2" fill="#d8d8d8" stroke="#111" stroke-width="1.4"/><line x1="-4.6" y1="0" x2="4.6" y2="0" stroke="#666" stroke-width="0.8"/></g>
</g>
<rect x="312.6" y="932.4" width="24.4" height="21.6" fill="#fff"/>
<rect x="312.6" y="932.4" width="24.4" height="4.8" fill="#c4c4c4" stroke="#555" stroke-width="0.9"/>
<rect x="312.6" y="950.2" width="24.4" height="3.8" fill="#c4c4c4" stroke="#555" stroke-width="0.9"/>
<line x1="312.6" y1="934.2" x2="337.0" y2="934.2" stroke="#666" stroke-width="0.7"/>
<g transform="translate(321.3,944.0)" stroke="#333" stroke-width="0.9" fill="#fff">
<ellipse cx="-2.7" cy="-2.7" rx="3.1" ry="1.6" transform="rotate(45 -2.7 -2.7)"/><ellipse cx="2.7" cy="-2.7" rx="3.1" ry="1.6" transform="rotate(-45 2.7 -2.7)"/>
<ellipse cx="-2.7" cy="2.7" rx="3.1" ry="1.6" transform="rotate(-45 -2.7 2.7)"/><ellipse cx="2.7" cy="2.7" rx="3.1" ry="1.6" transform="rotate(45 2.7 2.7)"/>
<ellipse cx="0" cy="0" rx="2.4" ry="1.6" fill="#111"/><line x1="0" y1="0" x2="12" y2="0"/>
</g>
<rect x="309.0" y="930.0" width="3.6" height="29.3" fill="#bdbdbd" stroke="#222" stroke-width="1.1"/>
<rect x="337.0" y="930.0" width="3.6" height="29.3" fill="#bdbdbd" stroke="#222" stroke-width="1.1"/>
<text x="328.3" y="979.2" font-family="Liberation Sans" font-size="14.2" fill="#1e1e1e" textLength="19.0" lengthAdjust="spacingAndGlyphs">Vo</text>
<line x1="348.8" y1="981.9" x2="356.8" y2="969.3" stroke="#1e1e1e" stroke-width="1.3" stroke-linecap="round"/>
<text x="358.6" y="979.2" font-family="Liberation Sans" font-size="14.2" fill="#1e1e1e" textLength="30.4" lengthAdjust="spacingAndGlyphs">fимп</text>
<rect x="352.4" y="899.0" width="23.0" height="12.6" fill="#ececec" stroke="#5a5a5a" stroke-width="1.3"/>
<text x="363.9" y="909.3" font-family="Liberation Sans" font-size="11.6" font-weight="normal" fill="#3a3a3a" text-anchor="middle" textLength="19.6" lengthAdjust="spacingAndGlyphs">ВПР</text>
<text x="381.2" y="895.5" font-family="Liberation Sans" font-size="14.2" fill="#1e1e1e" textLength="8.6" lengthAdjust="spacingAndGlyphs">P</text>
<line x1="389.6" y1="898.0" x2="397.0" y2="885.0" stroke="#1e1e1e" stroke-width="1.45" stroke-linecap="round"/>
<rect x="399.2" y="885.7" width="2.0" height="9.8" fill="#1e1e1e"/>
<rect x="361.5" y="934.6" width="6.4" height="7" fill="#fff" stroke="#2a2a2a" stroke-width="1.3"/>
<rect x="357.6" y="941.5" width="14.2" height="4.4" rx="2.2" fill="#cfcfcf" stroke="#1a1a1a" stroke-width="1.5"/>
<circle cx="364.0" cy="927.0" r="7.4" fill="#fff" stroke="#2a2a2a" stroke-width="2.4"/>
<rect x="372.5" y="923.7" width="3.4" height="7" fill="#1a1a1a"/>
<polyline points="375.4,905.0 383.0,905.0 383.0,927.5 375.9,927.5" fill="none" stroke="#444" stroke-width="1.1"/>
<rect x="447.0" y="939.1" width="31.6" height="11.0" fill="#fff"/>
<path d="M447.0 936.0 L462.8 944.6 L447.0 953.3 Z M478.6 936.0 L462.8 944.6 L478.6 953.3 Z" fill="#fff" stroke="#4a4a4a" stroke-width="1.2"/>
<text x="599.3" y="969.2" font-family="Liberation Sans" font-size="13.4" font-weight="bold" fill="#5a5a5a" textLength="98.1" lengthAdjust="spacingAndGlyphs">Трубопровод 8</text>
<rect x="216.4" y="49.5" width="140" height="103.6" rx="2.5" fill="#b4b4b4" stroke="#333" stroke-width="1.3"/>
<line x1="216.4" y1="61" x2="356.4" y2="61" stroke="#333" stroke-width="1.3"/>
<rect x="225.6" y="52" width="23.4" height="7" fill="#9a9a9a" stroke="#333" stroke-width="1.1"/>
<rect x="315.6" y="52.2" width="32.2" height="7" fill="#9a9a9a" stroke="#333" stroke-width="1.1"/>
<text x="237.3" y="58.0" font-family="Liberation Sans" font-size="5.5" font-weight="bold" fill="#222" text-anchor="middle">АЭЛЛИ</text>
<text x="331.7" y="58.2" font-family="Liberation Sans" font-size="5.5" font-weight="bold" fill="#222" text-anchor="middle">АСПГ761</text>
<line x1="225.2" y1="61" x2="225.2" y2="153" stroke="#333" stroke-width="1.2"/>
<line x1="255.2" y1="61" x2="255.2" y2="123.6" stroke="#333" stroke-width="1.2"/>
<line x1="216.4" y1="123.6" x2="356.4" y2="123.6" stroke="#333" stroke-width="1.2"/>
<line x1="353.8" y1="61" x2="353.8" y2="153" stroke="#555" stroke-width="0.8"/>
<circle cx="240.6" cy="86.8" r="9.2" fill="#fff" stroke="#444" stroke-width="1.3"/>
<circle cx="240.6" cy="86.8" r="4.6" fill="#888" stroke="#333" stroke-width="1"/>
<rect x="237.6" y="85.8" width="6" height="2" fill="#111"/>
<rect x="258.3" y="68.3" width="93.8" height="33.3" fill="#000"/>
<rect x="264.5" y="79.3" width="52.6" height="10.1" fill="#fff"/>
<rect x="323.8" y="76.9" width="6.9" height="1.9" fill="#eee"/><rect x="323.8" y="81.6" width="6.9" height="1.9" fill="#eee"/>
<rect x="341.0" y="76.9" width="6.4" height="1.9" fill="#eee"/><rect x="341.0" y="81.6" width="6.4" height="1.9" fill="#eee"/>
<rect x="332.2" y="76.9" width="6.6" height="6.5" rx="0.6" fill="#f2f2f2"/><path d="M335.5 77.8 L337.3 80.5 L335.5 82.4 L333.8 80.5 Z" fill="#111"/>
<rect x="323.8" y="85.5" width="6.9" height="6.6" rx="0.6" fill="#f2f2f2"/><path d="M325.2 86.8 L329.8 88.8 L325.2 90.8 Z" fill="#111"/>
<rect x="332.2" y="85.5" width="6.6" height="6.6" rx="0.6" fill="#f2f2f2"/><path d="M333.6 87.6 L337.4 87.6 L335.5 91.2 Z" fill="#111"/>
<rect x="341.0" y="85.5" width="6.4" height="6.6" rx="0.6" fill="#f2f2f2"/><ellipse cx="344.2" cy="88.6" rx="2.4" ry="1.4" fill="#111"/>
<rect x="258.3" y="107.4" width="94.2" height="9.7" rx="1" fill="#aaa" stroke="#333" stroke-width="1.1"/>
<rect x="225.6" y="124.4" width="121.4" height="28.8" fill="#000"/>
<rect x="216.8" y="134.7" width="6.6" height="4.6" fill="#444"/><rect x="349" y="134.7" width="6" height="4.6" fill="#444"/>
<text x="286.9" y="144.2" font-family="Liberation Sans" font-size="20.5" font-weight="bold" fill="#fff" text-anchor="middle" textLength="88" lengthAdjust="spacingAndGlyphs">СПГ761.2</text>
<rect x="233.0" y="152.3" width="9.2" height="3.4" rx="0.8" fill="#7a7a7a"/>
<rect x="234.2" y="153.5" width="6.8" height="0.9" fill="#b5b5b5"/>
<rect x="233.2" y="155.9" width="8.8" height="8.4" rx="2.6" fill="#3c3c3c"/>
<rect x="234.4" y="157.3" width="6.4" height="4.4" rx="1.4" fill="#8e8e8e"/>
<rect x="235.7" y="158.5" width="3.9" height="2.0" fill="#050505"/>
<rect x="234.0" y="161.9" width="7.2" height="1.8" rx="0.8" fill="#111"/>
<rect x="247.7" y="152.6" width="12.6" height="3.4" rx="0.8" fill="#7a7a7a"/>
<rect x="248.9" y="153.8" width="10.2" height="0.9" fill="#b5b5b5"/>
<rect x="247.9" y="156.2" width="12.2" height="12.2" rx="3.5" fill="#3c3c3c"/>
<rect x="249.1" y="157.6" width="9.8" height="8.2" rx="1.4" fill="#8e8e8e"/>
<rect x="251.4" y="158.8" width="5.3" height="5.8" fill="#050505"/>
<rect x="248.7" y="166.0" width="10.6" height="1.8" rx="0.8" fill="#111"/>
<rect x="263.7" y="152.6" width="12.6" height="3.4" rx="0.8" fill="#7a7a7a"/>
<rect x="264.9" y="153.8" width="10.2" height="0.9" fill="#b5b5b5"/>
<rect x="263.9" y="156.2" width="12.2" height="12.2" rx="3.5" fill="#3c3c3c"/>
<rect x="265.1" y="157.6" width="9.8" height="8.2" rx="1.4" fill="#8e8e8e"/>
<rect x="267.4" y="158.8" width="5.3" height="5.8" fill="#050505"/>
<rect x="264.7" y="166.0" width="10.6" height="1.8" rx="0.8" fill="#111"/>
<rect x="279.7" y="152.6" width="12.6" height="3.4" rx="0.8" fill="#7a7a7a"/>
<rect x="280.9" y="153.8" width="10.2" height="0.9" fill="#b5b5b5"/>
<rect x="279.9" y="156.2" width="12.2" height="12.2" rx="3.5" fill="#3c3c3c"/>
<rect x="281.1" y="157.6" width="9.8" height="8.2" rx="1.4" fill="#8e8e8e"/>
<rect x="283.4" y="158.8" width="5.3" height="5.8" fill="#050505"/>
<rect x="280.7" y="166.0" width="10.6" height="1.8" rx="0.8" fill="#111"/>
<rect x="295.7" y="152.6" width="12.6" height="3.4" rx="0.8" fill="#7a7a7a"/>
<rect x="296.9" y="153.8" width="10.2" height="0.9" fill="#b5b5b5"/>
<rect x="295.9" y="156.2" width="12.2" height="12.2" rx="3.5" fill="#3c3c3c"/>
<rect x="297.1" y="157.6" width="9.8" height="8.2" rx="1.4" fill="#8e8e8e"/>
<rect x="299.4" y="158.8" width="5.3" height="5.8" fill="#050505"/>
<rect x="296.7" y="166.0" width="10.6" height="1.8" rx="0.8" fill="#111"/>
<rect x="311.7" y="152.6" width="12.6" height="3.4" rx="0.8" fill="#7a7a7a"/>
<rect x="312.9" y="153.8" width="10.2" height="0.9" fill="#b5b5b5"/>
<rect x="311.9" y="156.2" width="12.2" height="12.2" rx="3.5" fill="#3c3c3c"/>
<rect x="313.1" y="157.6" width="9.8" height="8.2" rx="1.4" fill="#8e8e8e"/>
<rect x="315.4" y="158.8" width="5.3" height="5.8" fill="#050505"/>
<rect x="312.7" y="166.0" width="10.6" height="1.8" rx="0.8" fill="#111"/>
<rect x="327.7" y="152.6" width="12.6" height="3.4" rx="0.8" fill="#7a7a7a"/>
<rect x="328.9" y="153.8" width="10.2" height="0.9" fill="#b5b5b5"/>
<rect x="327.9" y="156.2" width="12.2" height="12.2" rx="3.5" fill="#3c3c3c"/>
<rect x="329.1" y="157.6" width="9.8" height="8.2" rx="1.4" fill="#8e8e8e"/>
<rect x="331.4" y="158.8" width="5.3" height="5.8" fill="#050505"/>
<rect x="328.7" y="166.0" width="10.6" height="1.8" rx="0.8" fill="#111"/>
<path d="M115.6 89 C115 70, 121 55, 140 53.6 C160 52.5, 183 62, 195.5 73" fill="none" stroke="#666" stroke-width="2.8"/>
<path d="M115.6 89 C115 70, 121 55, 140 53.6 C160 52.5, 183 62, 195.5 73" fill="none" stroke="#bbb" stroke-width="1.2"/>
<circle cx="201.8" cy="79.8" r="8.6" fill="#8a8a8a" stroke="#1a1a1a" stroke-width="1.8"/>
<circle cx="201.8" cy="79.8" r="5.2" fill="#a5a5a5" stroke="#666" stroke-width="0.8"/>
<rect x="197.5" y="78.6" width="8.6" height="2.6" fill="#ddd"/>
<rect x="112.3" y="91.8" width="7.4" height="11.6" rx="1" fill="#ccc" stroke="#333" stroke-width="1.2"/>
<rect x="114.4" y="94" width="3.2" height="7.4" fill="#eee"/>
<rect x="89.5" y="103.4" width="35.8" height="65.2" rx="3" fill="#bdbdbd" stroke="#444" stroke-width="1.4"/>
<rect x="92.4" y="107.2" width="30.2" height="41.4" rx="1" fill="#d4d4d4" stroke="#555" stroke-width="1.2"/>
<rect x="96" y="117.7" width="23.8" height="9.8" fill="#6a6a6a" stroke="#444" stroke-width="0.8"/>
<rect x="95" y="131.4" width="25.6" height="6.6" rx="1" fill="#333"/>
<rect x="96.4" y="132.8" width="4.6" height="3.8" rx="1" fill="#ccc"/>
<rect x="102.6" y="132.8" width="4.6" height="3.8" rx="1" fill="#ccc"/>
<rect x="108.8" y="132.8" width="4.6" height="3.8" rx="1" fill="#ccc"/>
<rect x="115.0" y="132.8" width="4.6" height="3.8" rx="1" fill="#ccc"/>
<rect x="95" y="144.5" width="24.8" height="2.1" fill="#111"/>
<text x="107.5" y="163.2" font-family="Liberation Sans" font-size="10.5" font-weight="bold" fill="#151515" text-anchor="middle" textLength="31.4" lengthAdjust="spacingAndGlyphs">АДС90</text>
<rect x="166.4" y="112.5" width="3.8" height="16" fill="#111"/>
<rect x="145.3" y="127.4" width="25" height="57.8" rx="3" fill="#000"/>
<rect x="148.4" y="132.5" width="19.3" height="19.3" rx="2.5" fill="#fff"/>
<text x="157.8" y="169.3" font-family="Liberation Sans" font-size="9" font-weight="bold" fill="#ddd" text-anchor="middle">GSM</text>
<path d="M183.5 177.6 C185.5 174.4 187.5 178.4 188.8 176.0 S190.5 173.4 191.3 175.6" fill="none" stroke="#3a3a3a" stroke-width="1.4"/>
<text x="194.1" y="179.8" font-family="Liberation Sans" font-size="10" font-weight="normal" fill="#3a3a3a" textLength="25.4" lengthAdjust="spacingAndGlyphs">220 В</text>
<rect x="196.6" y="222.8" width="47.4" height="38.4" rx="3" fill="#bdbdbd" stroke="#555" stroke-width="1.2"/>
<rect x="195" y="232.5" width="2.6" height="20" fill="#111"/>
<rect x="203" y="260.6" width="7.6" height="3.4" fill="#666"/><rect x="226" y="260.6" width="10" height="3.4" fill="#666"/>
<text x="220.3" y="248.8" font-family="Liberation Sans" font-size="13" font-weight="bold" fill="#0d0d0d" text-anchor="middle" textLength="41.6" lengthAdjust="spacingAndGlyphs">АПС79</text>
<path d="M178.6 243.2 L191 238.6 L191 247.8 Z" fill="#111"/>
<polyline points="190.0,243.2 196.0,243.2" fill="none" stroke="#333333" stroke-width="1.1"/>
<path d="M138.8 245.4 C140.8 242.2 142.8 246.2 144.1 243.8 S145.8 241.2 146.6 243.4" fill="none" stroke="#3a3a3a" stroke-width="1.4"/>
<text x="149.4" y="247.6" font-family="Liberation Sans" font-size="10" font-weight="normal" fill="#3a3a3a" textLength="25.4" lengthAdjust="spacingAndGlyphs">220 В</text>
<polyline points="208.0,263.6 208.0,283.8 174.3,283.8" fill="none" stroke="#333333" stroke-width="1.1"/>
<rect x="106.6" y="297.4" width="44.8" height="36.8" rx="2.5" fill="#fff" stroke="#444" stroke-width="1.4"/>
<rect x="109.8" y="300.2" width="38.6" height="30.2" rx="1" fill="#fff" stroke="#555" stroke-width="1.1"/>
<path d="M116 334.4 L142.6 334.4 L143.4 343 L115.6 343 Z" fill="#fff" stroke="#444" stroke-width="1.1"/>
<rect x="116" y="334.4" width="26.6" height="1.8" fill="#555"/>
<path d="M147 338.4 L183 338.4 L183.4 341.8 L146.4 341.8 Z" fill="#fff" stroke="#444" stroke-width="1"/>
<path d="M174 327 L183 327 L183.4 330 L174 330 Z" fill="#fff" stroke="#444" stroke-width="0.9"/>
<path d="M153.9 266.5 L156.6 262.6 L174.1 262.6 L174.1 339.4 L153.9 339.4 Z" fill="#fff" stroke="#444" stroke-width="1.3"/>
<rect x="157.3" y="272.4" width="13.8" height="6.9" fill="#fff" stroke="#333" stroke-width="1.1"/>
<rect x="157.3" y="272.4" width="13.8" height="2" fill="#333"/>
<rect x="159" y="275.3" width="4" height="3" fill="#555"/><rect x="165" y="275.3" width="3" height="3" fill="#555"/>
<rect x="157.3" y="280" width="13.8" height="5.6" fill="#fff" stroke="#444" stroke-width="0.9"/>
<path d="M159 284 Q163 281.5 167 283.6" fill="none" stroke="#111" stroke-width="1.4"/>
<rect x="157.3" y="285.6" width="13.8" height="9.9" fill="#fff" stroke="#555" stroke-width="0.9"/>
<rect x="157.3" y="297.8" width="13.8" height="18.5" fill="#fff" stroke="#444" stroke-width="1"/>
<line x1="157.3" y1="318.6" x2="171.1" y2="318.6" stroke="#666" stroke-width="0.9"/>
<rect x="157.3" y="323.6" width="13.8" height="1.6" fill="#222"/><rect x="157.3" y="328.2" width="13.8" height="1.6" fill="#222"/>
<path d="M110.6 346.6 L183.2 346.6 L183.2 363.2 L106.4 363.2 Z" fill="#fff" stroke="#444" stroke-width="1.3"/>
<path d="M112.6 348.8 L180.4 348.8 L180.4 358.2 L111.2 358.2 Z" fill="#fff" stroke="#666" stroke-width="0.9"/>
<rect x="113" y="349" width="67" height="1.8" fill="#444"/>
<path d="M175 324.6 C177.5 326, 177.6 332, 176.4 336 C175 341, 168 345, 159.5 347" fill="none" stroke="#000" stroke-width="2.6"/>
<path d="M209.5 309 L236.2 309 L237.5 323 L208.5 323 Z" fill="#fff" stroke="#111" stroke-width="1.8"/>
<path d="M206.5 317 L209.5 317 L209.5 324 M237 317 L240 317 L240 324" fill="none" stroke="#111" stroke-width="1.6"/>
<path d="M201.7 319.6 L246.8 319.6 L253.4 328 L253.8 346.6 L197.4 346.6 L197.6 332 Z" fill="#fff" stroke="#111" stroke-width="1.8"/>
<rect x="205" y="323" width="38" height="3.4" fill="#555"/>
<rect x="206.5" y="323.2" width="1" height="3" fill="#eee"/>
<rect x="209.5" y="323.2" width="1" height="3" fill="#eee"/>
<rect x="212.5" y="323.2" width="1" height="3" fill="#eee"/>
<rect x="215.5" y="323.2" width="1" height="3" fill="#eee"/>
<rect x="218.5" y="323.2" width="1" height="3" fill="#eee"/>
<rect x="221.5" y="323.2" width="1" height="3" fill="#eee"/>
<rect x="224.5" y="323.2" width="1" height="3" fill="#eee"/>
<rect x="227.5" y="323.2" width="1" height="3" fill="#eee"/>
<rect x="230.5" y="323.2" width="1" height="3" fill="#eee"/>
<rect x="233.5" y="323.2" width="1" height="3" fill="#eee"/>
<rect x="236.5" y="323.2" width="1" height="3" fill="#eee"/>
<rect x="239.5" y="323.2" width="1" height="3" fill="#eee"/>
<rect x="203" y="327" width="42" height="2.4" fill="#fff" stroke="#333" stroke-width="0.9"/>
<path d="M240.5 320 L247 320 L253.2 328.5 L253.2 333.3 L240.5 333.3 Z" fill="#111"/>
<rect x="243" y="322.3" width="6" height="2.2" fill="#888"/>
<line x1="197.6" y1="332.6" x2="253.8" y2="332.6" stroke="#111" stroke-width="1.7"/>
<line x1="197.6" y1="337.2" x2="253.8" y2="337.2" stroke="#111" stroke-width="1.7"/>
<line x1="197.6" y1="341.5" x2="253.8" y2="341.5" stroke="#111" stroke-width="1.7"/>
<line x1="197.6" y1="345.6" x2="253.8" y2="345.6" stroke="#111" stroke-width="1.7"/>
<path d="M225.1 347.2 L231.6 353.4 L228.2 353.4 L228.2 364 L231.6 364 L225.1 370 L218.6 364 L222 364 L222 353.4 L218.6 353.4 Z" fill="#fff" stroke="#555" stroke-width="1.1"/>
<rect x="210.2" y="370.4" width="29.3" height="3" fill="#aaa" stroke="#555" stroke-width="0.7"/>
<rect x="200.9" y="372.7" width="47.8" height="38.3" rx="3.5" fill="#bdbdbd" stroke="#555" stroke-width="1.2"/>
<rect x="199.2" y="384.3" width="2.6" height="15.4" fill="#111"/><rect x="248" y="384.3" width="2.6" height="15.4" fill="#111"/>
<text x="225.6" y="396.6" font-family="Liberation Sans" font-size="13" font-weight="bold" fill="#0d0d0d" text-anchor="middle" textLength="41.6" lengthAdjust="spacingAndGlyphs">АПС43</text>
<path d="M184 392 L196.3 387.4 L196.3 396.6 Z" fill="#111"/>
<polyline points="195.0,392.0 200.0,392.0" fill="none" stroke="#333333" stroke-width="1.1"/>
<path d="M144.0 393.0 C146.0 389.8 148.0 393.8 149.3 391.4 S151.0 388.8 151.8 391.0" fill="none" stroke="#3a3a3a" stroke-width="1.4"/>
<text x="154.6" y="395.2" font-family="Liberation Sans" font-size="10" font-weight="normal" fill="#3a3a3a" textLength="24.6" lengthAdjust="spacingAndGlyphs">220 В</text>
<rect x="206.1" y="410.6" width="9.4" height="3.4" rx="0.8" fill="#7a7a7a"/>
<rect x="207.3" y="411.8" width="7.0" height="0.9" fill="#b5b5b5"/>
<rect x="206.3" y="414.2" width="9.0" height="7.2" rx="2.6" fill="#3c3c3c"/>
<rect x="207.5" y="415.6" width="6.6" height="3.2" rx="1.4" fill="#8e8e8e"/>
<rect x="208.8" y="416.8" width="3.9" height="0.8" fill="#050505"/>
<rect x="207.1" y="419.0" width="7.4" height="1.8" rx="0.8" fill="#111"/>
<rect x="168.8" y="606.4" width="117" height="98.2" rx="8" fill="#a8a8a8" stroke="#333" stroke-width="1.4"/>
<rect x="182.5" y="608.3" width="90" height="94.8" fill="#000"/>
<line x1="182.5" y1="607" x2="182.5" y2="704" stroke="#333" stroke-width="1"/><line x1="272.5" y1="607" x2="272.5" y2="704" stroke="#333" stroke-width="1"/>
<rect x="208.6" y="622" width="52.2" height="15.3" rx="1.5" fill="#a0a0a0" stroke="#ccc" stroke-width="1.1"/>
<circle cx="196.9" cy="630" r="2.8" fill="#555" stroke="#ccc" stroke-width="1"/>
<circle cx="257.2" cy="649" r="4.8" fill="#111" stroke="#999" stroke-width="1.2"/>
<text x="227.0" y="689.6" font-family="Liberation Sans" font-size="22.5" font-weight="bold" fill="#e8e8e8" text-anchor="middle" textLength="74.5" lengthAdjust="spacingAndGlyphs">АДС97</text>
<rect x="188.7" y="706.0" width="9.2" height="3.4" rx="0.8" fill="#7a7a7a"/>
<rect x="189.9" y="707.2" width="6.8" height="0.9" fill="#b5b5b5"/>
<rect x="188.9" y="709.6" width="8.8" height="7.0" rx="2.6" fill="#3c3c3c"/>
<rect x="190.1" y="711.0" width="6.4" height="3.0" rx="1.4" fill="#8e8e8e"/>
<rect x="191.4" y="712.2" width="3.9" height="0.6" fill="#050505"/>
<rect x="189.7" y="714.2" width="7.2" height="1.8" rx="0.8" fill="#111"/>
<rect x="203.5" y="704.6" width="13.6" height="3.4" rx="0.8" fill="#7a7a7a"/>
<rect x="204.7" y="705.8" width="11.2" height="0.9" fill="#b5b5b5"/>
<rect x="203.7" y="708.2" width="13.2" height="12.8" rx="3.8" fill="#3c3c3c"/>
<rect x="204.9" y="709.6" width="10.8" height="8.8" rx="1.4" fill="#8e8e8e"/>
<rect x="207.4" y="710.8" width="5.7" height="6.4" fill="#050505"/>
<rect x="204.5" y="718.6" width="11.6" height="1.8" rx="0.8" fill="#111"/>
<rect x="220.6" y="704.6" width="13.6" height="3.4" rx="0.8" fill="#7a7a7a"/>
<rect x="221.8" y="705.8" width="11.2" height="0.9" fill="#b5b5b5"/>
<rect x="220.8" y="708.2" width="13.2" height="12.8" rx="3.8" fill="#3c3c3c"/>
<rect x="222.0" y="709.6" width="10.8" height="8.8" rx="1.4" fill="#8e8e8e"/>
<rect x="224.5" y="710.8" width="5.7" height="6.4" fill="#050505"/>
<rect x="221.6" y="718.6" width="11.6" height="1.8" rx="0.8" fill="#111"/>
<rect x="237.4" y="704.6" width="13.6" height="3.4" rx="0.8" fill="#7a7a7a"/>
<rect x="238.6" y="705.8" width="11.2" height="0.9" fill="#b5b5b5"/>
<rect x="237.6" y="708.2" width="13.2" height="12.8" rx="3.8" fill="#3c3c3c"/>
<rect x="238.8" y="709.6" width="10.8" height="8.8" rx="1.4" fill="#8e8e8e"/>
<rect x="241.3" y="710.8" width="5.7" height="6.4" fill="#050505"/>
<rect x="238.4" y="718.6" width="11.6" height="1.8" rx="0.8" fill="#111"/>
<rect x="254.0" y="704.6" width="13.6" height="3.4" rx="0.8" fill="#7a7a7a"/>
<rect x="255.2" y="705.8" width="11.2" height="0.9" fill="#b5b5b5"/>
<rect x="254.2" y="708.2" width="13.2" height="12.8" rx="3.8" fill="#3c3c3c"/>
<rect x="255.4" y="709.6" width="10.8" height="8.8" rx="1.4" fill="#8e8e8e"/>
<rect x="257.9" y="710.8" width="5.7" height="6.4" fill="#050505"/>
<rect x="255.0" y="718.6" width="11.6" height="1.8" rx="0.8" fill="#111"/>
<rect x="127.4" y="732.6" width="49" height="36.8" rx="4" fill="#bdbdbd" stroke="#555" stroke-width="1.2"/>
<text x="152.0" y="756.8" font-family="Liberation Sans" font-size="13" font-weight="bold" fill="#111" text-anchor="middle" textLength="41" lengthAdjust="spacingAndGlyphs">АДП81</text>
<rect x="134.7" y="769.2" width="10.4" height="3.4" rx="0.8" fill="#7a7a7a"/>
<rect x="135.9" y="770.4" width="8.0" height="0.9" fill="#b5b5b5"/>
<rect x="134.9" y="772.8" width="10.0" height="9.0" rx="2.9" fill="#3c3c3c"/>
<rect x="136.1" y="774.2" width="7.6" height="5.0" rx="1.4" fill="#8e8e8e"/>
<rect x="137.7" y="775.4" width="4.4" height="2.6" fill="#050505"/>
<rect x="135.7" y="779.4" width="8.4" height="1.8" rx="0.8" fill="#111"/>
<rect x="146.8" y="769.2" width="10.4" height="3.4" rx="0.8" fill="#7a7a7a"/>
<rect x="148.0" y="770.4" width="8.0" height="0.9" fill="#b5b5b5"/>
<rect x="147.0" y="772.8" width="10.0" height="9.0" rx="2.9" fill="#3c3c3c"/>
<rect x="148.2" y="774.2" width="7.6" height="5.0" rx="1.4" fill="#8e8e8e"/>
<rect x="149.8" y="775.4" width="4.4" height="2.6" fill="#050505"/>
<rect x="147.8" y="779.4" width="8.4" height="1.8" rx="0.8" fill="#111"/>
<rect x="159.4" y="769.2" width="10.4" height="3.4" rx="0.8" fill="#7a7a7a"/>
<rect x="160.6" y="770.4" width="8.0" height="0.9" fill="#b5b5b5"/>
<rect x="159.6" y="772.8" width="10.0" height="9.0" rx="2.9" fill="#3c3c3c"/>
<rect x="160.8" y="774.2" width="7.6" height="5.0" rx="1.4" fill="#8e8e8e"/>
<rect x="162.4" y="775.4" width="4.4" height="2.6" fill="#050505"/>
<rect x="160.4" y="779.4" width="8.4" height="1.8" rx="0.8" fill="#111"/>
<polyline points="139.7,781.0 139.7,796.0 132.0,796.0" fill="none" stroke="#333333" stroke-width="1.1"/>
<path d="M123.6 796 L138.8 790.8 L138.8 801.2 Z" fill="#111"/>
<path d="M84.0 797.8 C86.0 794.6 88.0 798.6 89.3 796.2 S91.0 793.6 91.8 795.8" fill="none" stroke="#3a3a3a" stroke-width="1.4"/>
<text x="94.6" y="800.0" font-family="Liberation Sans" font-size="10" font-weight="normal" fill="#3a3a3a" textLength="25.0" lengthAdjust="spacingAndGlyphs">220 В</text>
<text x="166.0" y="806.0" font-family="Liberation Sans" font-size="10.5" font-weight="normal" fill="#333" textLength="25.5" lengthAdjust="spacingAndGlyphs">=12 В</text></svg>
</body></html>
